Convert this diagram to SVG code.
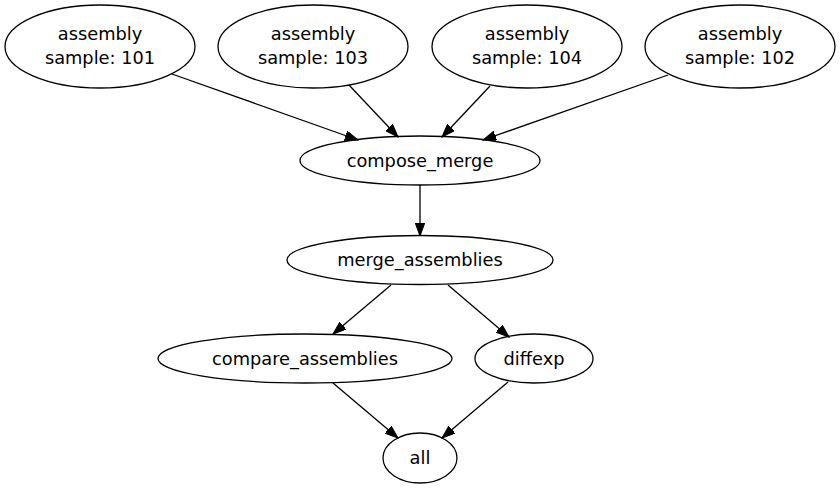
<svg xmlns="http://www.w3.org/2000/svg" width="840" height="488" viewBox="0 0 840 488">
<style>
.n ellipse{fill:none;stroke:#000;stroke-width:1.3}
.n text{font-family:"DejaVu Sans",sans-serif;font-size:17.8px;text-anchor:middle;fill:#000}
.e line{stroke:#000;stroke-width:1.3;marker-end:url(#ah)}
</style>
<defs>
<marker id="ah" markerUnits="userSpaceOnUse" markerWidth="14" markerHeight="10" refX="13" refY="4.75" orient="auto">
<path d="M0,0 L13,4.75 L0,9.5 z" fill="#000" stroke="#000" stroke-width="1"/>
</marker>
</defs>
<rect width="840" height="488" fill="#fff"/>
<g id="connectors" class="e">
<line x1="172" y1="74" x2="358" y2="140"/>
<line x1="349" y1="85" x2="398" y2="137"/>
<line x1="490" y1="86" x2="442" y2="137"/>
<line x1="668" y1="75" x2="483" y2="140"/>
<line x1="420" y1="185" x2="420" y2="236"/>
<line x1="391" y1="285" x2="333" y2="334"/>
<line x1="448" y1="285" x2="509" y2="337"/>
<line x1="333" y1="383" x2="398" y2="438"/>
<line x1="508" y1="382" x2="442" y2="438"/>
</g>
<g id="n101" class="n"><ellipse cx="100" cy="46.5" rx="95" ry="41.5"/><text x="100" y="39.5">assembly</text><text x="100" y="63.5">sample: 101</text></g>
<g id="n103" class="n"><ellipse cx="313" cy="46.5" rx="95" ry="41.5"/><text x="313" y="39.5">assembly</text><text x="313" y="63.5">sample: 103</text></g>
<g id="n104" class="n"><ellipse cx="527" cy="46.5" rx="95" ry="41.5"/><text x="527" y="39.5">assembly</text><text x="527" y="63.5">sample: 104</text></g>
<g id="n102" class="n"><ellipse cx="740" cy="46.5" rx="95" ry="41.5"/><text x="740" y="39.5">assembly</text><text x="740" y="63.5">sample: 102</text></g>
<g id="compose_merge" class="n"><ellipse cx="420" cy="160.5" rx="120" ry="24.5"/><text x="420" y="166.5">compose_merge</text></g>
<g id="merge_assemblies" class="n"><ellipse cx="420" cy="260" rx="133" ry="24.5"/><text x="420" y="266">merge_assemblies</text></g>
<g id="compare_assemblies" class="n"><ellipse cx="305" cy="358.5" rx="147" ry="24.5"/><text x="305" y="364.5">compare_assemblies</text></g>
<g id="diffexp" class="n"><ellipse cx="534" cy="358.5" rx="59" ry="24.5"/><text x="534" y="364.5">diffexp</text></g>
<g id="all" class="n"><ellipse cx="420" cy="458" rx="37" ry="25"/><text x="420" y="464">all</text></g>
</svg>
